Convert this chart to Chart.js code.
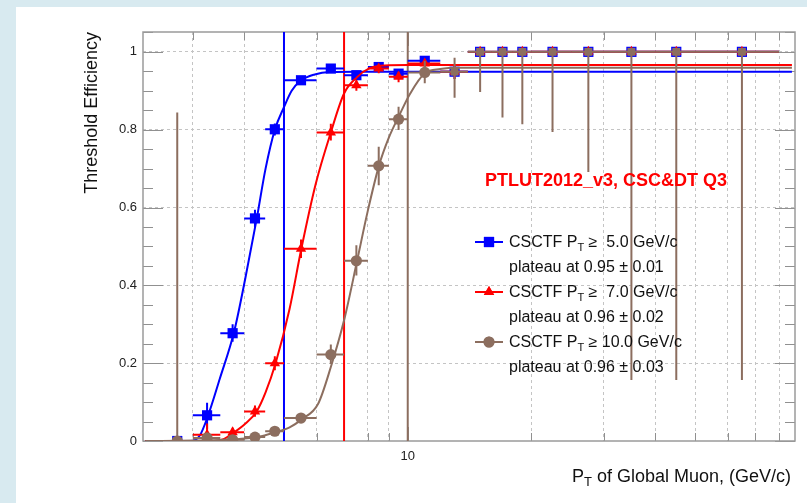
<!DOCTYPE html>
<html><head><meta charset="utf-8">
<script src="https://cdn.jsdelivr.net/npm/chart.js@4.4.1/dist/chart.umd.min.js"></script>
<style>html,body{margin:0;padding:0;background:#d8eaf0;overflow:hidden}canvas{display:block}</style>
</head><body>
<canvas id="c" width="807" height="503"></canvas>
<script>
// ---- data ----
const ptCenter = [2.75,3.25,3.75,4.25,4.75,5.5,6.5,7.5,8.5,9.5,11,13,15,17,19,22.5,27.5,35,45,65];
const ptLow    = [2.5,3,3.5,4,4.5,5,6,7,8,9,10,12,14,16,18,20,25,30,40,50];
const ptHigh   = [3,3.5,4,4.5,5,6,7,8,9,10,12,14,16,18,20,25,30,40,50,80];

const eff5   = [0,0.066,0.277,0.572,0.801,0.927,0.957,0.94,0.961,0.944,0.977,0.949,1,1,1,1,1,1,1,1];
const eff5Lo = [0,0.031,0.255,0.55,0.785,0.917,0.949,0.928,0.95,0.932,0.966,0.93,1,1,1,1,1,1,1,1];
const eff5Hi = [0,0.098,0.3,0.594,0.816,0.936,0.964,0.95,0.97,0.955,0.986,0.965,1,1,1,1,1,1,1,1];

const eff7   = [0,0.016,0.0226,0.076,0.2,0.494,0.793,0.914,0.957,0.936,0.97,0.949,1,1,1,1,1,1,1,1];
const eff7Lo = [0,0.005,0.013,0.062,0.182,0.47,0.772,0.9,0.945,0.922,0.958,0.93,1,1,1,1,1,1,1,1];
const eff7Hi = [0,0.045,0.034,0.091,0.218,0.518,0.815,0.927,0.967,0.949,0.98,0.966,1,1,1,1,1,1,1,1];

const eff10   = [0,0.008,0.003,0.01,0.025,0.059,0.222,0.463,0.707,0.827,0.947,0.949,1,1,1,1,1,1,1,1];
const eff10Lo = [0,0.003,0.001,0.005,0.017,0.047,0.198,0.425,0.657,0.799,0.919,0.882,0.897,0.831,0.814,0.794,0.691,0.157,0.157,0.157];
const eff10Hi = [0.844,0.013,0.006,0.015,0.033,0.071,0.248,0.503,0.756,0.859,0.977,0.985,1,1,1,1,1,1,1,1];
const style10 = ['circle','circle','circle','circle','circle','circle','circle','circle','circle','circle','circle','rect','rect','rect','rect','rect','rect','rect','rect','rect'];

// fitted curves
const fit5X = [2.3,2.97,3.12,3.26,3.49,3.78,4.03,4.29,4.51,4.75,5.0,5.22,5.51,5.94,6.45,7.5,86];
const fit5Y = [0,0,0.014,0.062,0.16,0.28,0.42,0.57,0.70,0.80,0.858,0.90,0.927,0.942,0.948,0.9486,0.9486];
const fit7X = [2.3,3.39,3.55,3.78,4.03,4.29,4.51,4.77,5.16,5.51,5.97,6.5,7.0,7.53,8.08,8.79,10,86];
const fit7Y = [0,0,0.004,0.022,0.045,0.076,0.125,0.2,0.34,0.494,0.66,0.793,0.893,0.935,0.958,0.965,0.966,0.966];
const fit10X = [2.3,3.03,3.78,4.29,4.75,5.16,5.51,6.05,6.5,7.0,7.53,7.99,8.51,9.0,9.52,10.1,11.0,12.0,13.4,86];
const fit10Y = [0,0.001,0.004,0.01,0.022,0.035,0.055,0.095,0.19,0.31,0.463,0.59,0.707,0.78,0.835,0.89,0.945,0.956,0.959,0.959];

const thresholds = [5, 7, 10];
const xGridValues = [3,4,5,6,7,8,9,10,20,30,40,50,60,70,80];
const yTickValues = [0,0.05,0.1,0.15,0.2,0.25,0.3,0.35,0.4,0.45,0.5,0.55,0.6,0.65,0.7,0.75,0.8,0.85,0.9,0.95,1.0,1.05];
const yMajor = [0,0.2,0.4,0.6,0.8,1];

const legendLabels = ['CSCTF P_T \u2265  5.0 GeV/c','plateau at 0.95 \u00b1 0.01','CSCTF P_T \u2265  7.0 GeV/c','plateau at 0.96 \u00b1 0.02','CSCTF P_T \u2265 10.0 GeV/c','plateau at 0.96 \u00b1 0.03'];
const plotTitle = 'PTLUT2012_v3, CSC&DT Q3';
const xTitle = 'P_T of Global Muon, (GeV/c)';
const yTitle = 'Threshold Efficiency';

const BLUE = '#0000ff', RED = '#ff0000', BROWN = '#8c6e5f';
const FONT = '"Liberation Sans", Arial, Helvetica, sans-serif';

function pts(xs, ys) { return xs.map((x, i) => ({x: x, y: ys[i]})); }
function isMajor(v) { return yMajor.some(m => Math.abs(m - v) < 1e-6); }

function pointSet(label, ys, lo, hi, color, style, radius, order) {
  return {type: 'scatter', label, data: pts(ptCenter, ys), showLine: false,
    backgroundColor: color, borderColor: color, pointBackgroundColor: color, pointBorderColor: color,
    pointBorderWidth: 0, pointStyle: style, pointRadius: radius, pointHoverRadius: radius,
    errLo: lo, errHi: hi, errColor: color, order};
}
function lineSet(xs, ys, color, order) {
  return {type: 'line', data: pts(xs, ys), borderColor: color, borderWidth: 2, pointRadius: 0,
    fill: false, cubicInterpolationMode: 'monotone', order};
}
function thrSet(v, color, order) {
  return {type: 'line', data: [{x: v, y: 0}, {x: v, y: 1.051}], borderColor: color, borderWidth: 2,
    pointRadius: 0, fill: false, order};
}

// subscript-aware text
function richWidth(ctx, text, size) {
  const parts = text.split('_T');
  let w = 0;
  parts.forEach((p, i) => { ctx.font = size + 'px ' + FONT; w += ctx.measureText(p).width;
    if (i < parts.length - 1) { ctx.font = Math.round(size * 0.7) + 'px ' + FONT; w += ctx.measureText('T').width; } });
  return w;
}
function drawRich(ctx, text, x, y, size, color) {
  const parts = text.split('_T');
  ctx.fillStyle = color; ctx.textBaseline = 'middle'; ctx.textAlign = 'left';
  let cx = x;
  parts.forEach((p, i) => {
    ctx.font = size + 'px ' + FONT; ctx.fillText(p, cx, y); cx += ctx.measureText(p).width;
    if (i < parts.length - 1) {
      ctx.font = Math.round(size * 0.7) + 'px ' + FONT; ctx.fillText('T', cx, y + size * 0.32);
      cx += ctx.measureText('T').width;
    }
  });
}

const decor = {
  id: 'decor',
  beforeDraw(chart) {
    const c = chart.ctx;
    c.save();
    c.fillStyle = '#d8eaf0'; c.fillRect(0, 0, chart.width, chart.height);
    c.fillStyle = '#ffffff'; c.fillRect(16, 7, chart.width - 16, chart.height - 7);
    c.restore();
  },
  beforeDatasetsDraw(chart) {
    const c = chart.ctx, a = chart.chartArea, ys = chart.scales.y, xs = chart.scales.x;
    c.save();
    c.strokeStyle = '#909090'; c.lineWidth = 1;
    yTickValues.forEach(v => {
      if (v > 1.051) return;
      const p = Math.round(ys.getPixelForValue(v)) + 0.5;
      const len = isMajor(v) ? 20 : 10;
      c.beginPath(); c.moveTo(a.left, p); c.lineTo(a.left + len, p);
      c.moveTo(a.right - len, p); c.lineTo(a.right, p); c.stroke();
    });
    xGridValues.forEach(v => {
      const p = Math.round(xs.getPixelForValue(v)) + 0.5;
      const len = v === 10 ? 14 : 8;
      c.beginPath(); c.moveTo(p, a.bottom); c.lineTo(p, a.bottom - len);
      c.moveTo(p, a.top); c.lineTo(p, a.top + len); c.stroke();
    });
    c.strokeStyle = '#9a9a9a'; c.lineWidth = 1.5;
    c.strokeRect(a.left, a.top, a.right - a.left, a.bottom - a.top);
    c.restore();
  },
  beforeDatasetDraw(chart, args) {
    const ds = chart.data.datasets[args.index];
    if (!ds.errLo) return;
    const c = chart.ctx, a = chart.chartArea, xs = chart.scales.x, ys = chart.scales.y;
    c.save();
    c.beginPath(); c.rect(a.left, a.top, a.right - a.left, a.bottom - a.top); c.clip();
    c.strokeStyle = ds.errColor; c.lineWidth = 2;
    ds.data.forEach((d, i) => {
      const px = xs.getPixelForValue(d.x), py = ys.getPixelForValue(d.y);
      c.beginPath();
      c.moveTo(xs.getPixelForValue(ptLow[i]), py); c.lineTo(xs.getPixelForValue(ptHigh[i]), py);
      if (ds.errHi[i] > ds.errLo[i]) {
        c.moveTo(px, ys.getPixelForValue(ds.errLo[i])); c.lineTo(px, ys.getPixelForValue(ds.errHi[i]));
      }
      c.stroke();
    });
    c.restore();
  },
  afterDatasetsDraw(chart) {
    const c = chart.ctx;
    c.save();
    // plot label
    c.font = 'bold 18px ' + FONT; c.fillStyle = RED; c.textAlign = 'left'; c.textBaseline = 'middle';
    c.fillText(plotTitle, 485, 181);
    // legend
    const rows = [242, 267, 292, 317, 342, 367];
    const colors = [BLUE, RED, BROWN];
    const styles = ['rect', 'triangle', 'circle'];
    const radii = [7.2, 6, 5.5];
    legendLabels.forEach((t, i) => {
      const y = rows[i];
      if (i % 2 === 0) {
        const k = i / 2;
        c.strokeStyle = colors[k]; c.lineWidth = 2;
        c.beginPath(); c.moveTo(475, y); c.lineTo(503, y); c.stroke();
        c.fillStyle = colors[k];
        Chart.helpers.drawPoint(c, {pointStyle: styles[k], radius: radii[k], borderWidth: 0, rotation: 0}, 489, y);
        c.fill();
      }
      drawRich(c, t, 509, y + 1, 16, '#111');
    });
    // x title (right aligned)
    const w = richWidth(c, xTitle, 18);
    drawRich(c, xTitle, 791 - w, 477, 18, '#111');
    c.restore();
  }
};

const chart = new Chart(document.getElementById('c'), {
  data: {
    datasets: [
      pointSet('CSCTF PT >= 10.0', eff10, eff10Lo, eff10Hi, BROWN, style10, 5.6, 0),
      lineSet(fit10X, fit10Y, BROWN, 1),
      pointSet('CSCTF PT >= 7.0', eff7, eff7Lo, eff7Hi, RED, 'triangle', 6, 2),
      lineSet(fit7X, fit7Y, RED, 3),
      pointSet('CSCTF PT >= 5.0', eff5, eff5Lo, eff5Hi, BLUE, 'rect', 7.2, 4),
      lineSet(fit5X, fit5Y, BLUE, 5),
      thrSet(thresholds[0], BLUE, 6),
      thrSet(thresholds[1], RED, 7),
      thrSet(thresholds[2], BROWN, 8)
    ]
  },
  options: {
    responsive: false, animation: false, devicePixelRatio: 1,
    layout: {padding: {left: 0, top: 32, right: 12, bottom: 0}},
    plugins: {legend: {display: false}, tooltip: {enabled: false}},
    scales: {
      x: {
        type: 'logarithmic', min: 2.27, max: 87.5, position: 'bottom',
        afterBuildTicks(s) { s.ticks = xGridValues.map(v => ({value: v})); },
        afterFit(s) { s.height = 62; },
        ticks: {autoSkip: false, maxRotation: 0, padding: 8, color: '#222',
          font: {family: FONT, size: 13},
          callback(v) { return v === 10 ? '10' : ''; }},
        grid: {color: '#c4c4c4', lineWidth: 1, drawTicks: false},
        border: {display: false, dash: [3, 3]}
      },
      y: {
        type: 'linear', min: 0, max: 1.051, position: 'left',
        afterBuildTicks(s) { s.ticks = yTickValues.filter(v => v <= 1.051).map(v => ({value: v})); },
        afterFit(s) { s.width = 143; },
        ticks: {autoSkip: false, padding: 6, color: '#222', font: {family: FONT, size: 13},
          callback(v) { return isMajor(v) ? (v === 0 ? '0' : String(+v.toFixed(1))) : ''; }},
        grid: {drawTicks: false, lineWidth: 1,
          color(ctx) { return (ctx.tick && isMajor(ctx.tick.value) && ctx.tick.value > 0) ? '#c4c4c4' : 'rgba(0,0,0,0)'; }},
        border: {display: false, dash: [3, 3]},
        title: {display: true, text: yTitle, align: 'end', color: '#111',
          font: {family: FONT, size: 18}, padding: {top: 81, bottom: 0}}
      }
    }
  },
  plugins: [decor]
});
</script>
</body></html>
